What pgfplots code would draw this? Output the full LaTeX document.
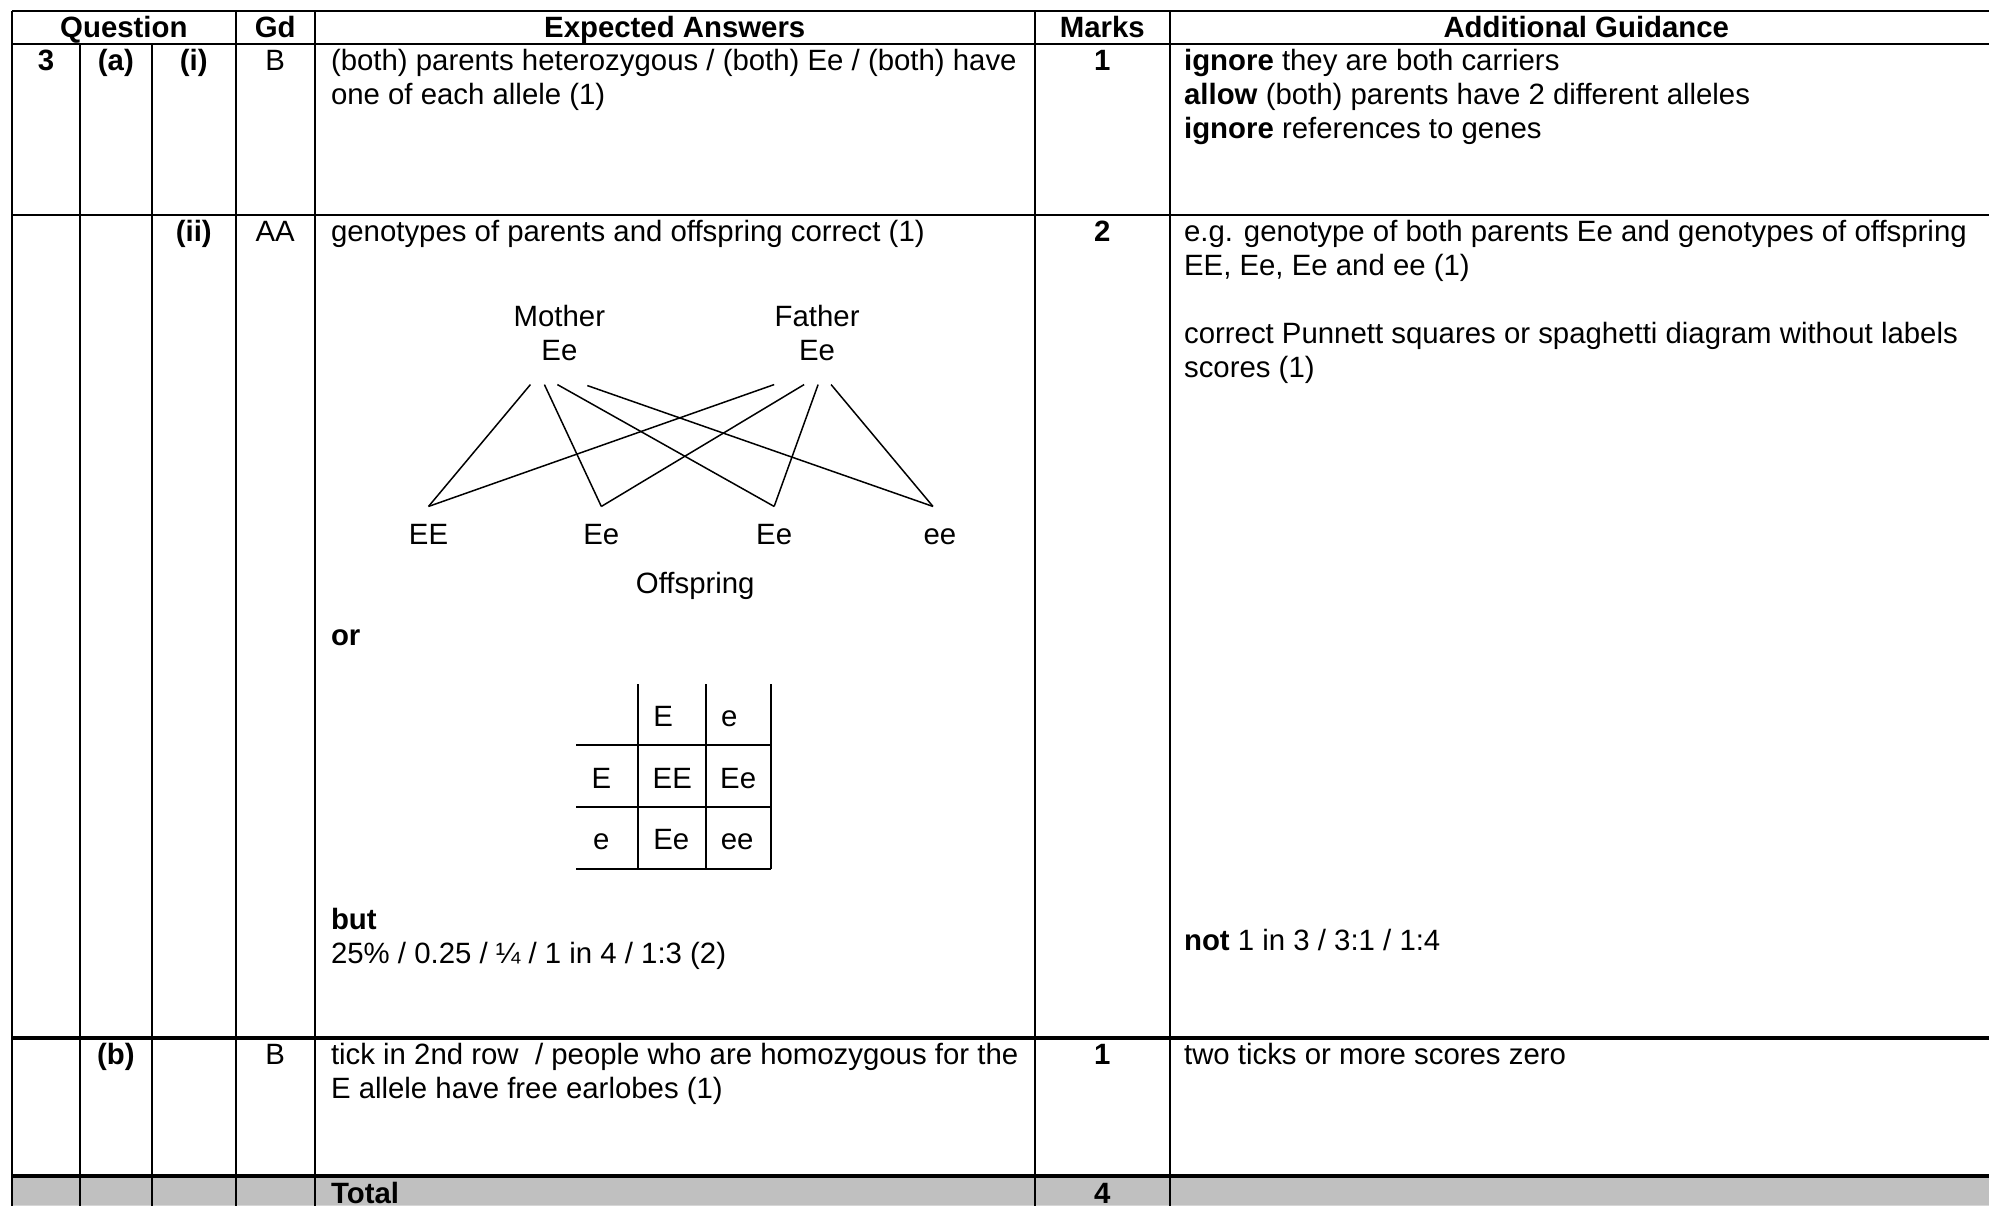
\documentclass[border=0pt]{standalone}
\usepackage{fontspec}
\setmainfont{Liberation Sans}
\usepackage{pgfplots}
\pgfplotsset{compat=1.18}

\definecolor{totalgrey}{RGB}{192,192,192}

\begin{document}
\begin{tikzpicture}[every node/.style={font=\fontsize{14.7bp}{17bp}\selectfont, inner sep=0pt}]
\begin{axis}[
  width=995.5bp, height=603.5bp,
  scale only axis,
  xmin=0, xmax=1991, ymin=0, ymax=1207,
  y dir=reverse,
  hide axis,
  clip=false,
  grid line/.style={black, line width=1bp},
  thick line/.style={black, line width=1.7bp},
  thin line/.style={black, line width=0.75bp},
]
% page and grey total row
\addplot[draw=none, fill=white] coordinates {(0,0) (1991,0) (1991,1207) (0,1207) (0,0)};
\addplot[draw=none, fill=totalgrey] coordinates {(12,1177) (1991,1177) (1991,1207) (12,1207) (12,1177)};

% horizontal rules
\addplot[grid line] coordinates {(12,11) (1991,11)};
\addplot[grid line] coordinates {(12,44) (1991,44)};
\addplot[grid line] coordinates {(12,215) (1991,215)};
\addplot[thick line] coordinates {(12,1039) (1991,1039)};
\addplot[thick line, line width=2.2bp] coordinates {(12,1177) (1991,1177)};

% vertical rules
\addplot[grid line] coordinates {(12,11) (12,1207)};
\addplot[grid line] coordinates {(80,44) (80,1207)};
\addplot[grid line] coordinates {(152,44) (152,1207)};
\addplot[grid line] coordinates {(236,11) (236,1207)};
\addplot[grid line] coordinates {(315,11) (315,1207)};
\addplot[grid line] coordinates {(1036,11) (1036,1207)};
\addplot[grid line] coordinates {(1171,11) (1171,1207)};

% spaghetti diagram
\addplot[thin line] coordinates {(531,385) (429,507)};
\addplot[thin line] coordinates {(545,385) (602,507)};
\addplot[thin line] coordinates {(558,385) (775,507)};
\addplot[thin line] coordinates {(588,386) (934,507)};
\addplot[thin line] coordinates {(775,385) (429,507)};
\addplot[thin line] coordinates {(805,385) (602,507)};
\addplot[thin line] coordinates {(819,385) (775,507)};
\addplot[thin line] coordinates {(832,385) (934,507)};

% Punnett square
\addplot[thin line, line width=1bp] coordinates {(639,685) (639,870)};
\addplot[thin line, line width=1bp] coordinates {(707,685) (707,870)};
\addplot[thin line, line width=1bp] coordinates {(772,685) (772,870)};
\addplot[thin line, line width=1bp] coordinates {(577,746) (772,746)};
\addplot[thin line, line width=1bp] coordinates {(577,808) (772,808)};
\addplot[thin line, line width=1bp] coordinates {(577,870) (772,870)};

% header
\node[anchor=base] at (axis cs:124,38) {\bfseries Question};
\node[anchor=base] at (axis cs:275.5,38) {\bfseries Gd};
\node[anchor=base] at (axis cs:675.5,38) {\bfseries Expected Answers};
\node[anchor=base] at (axis cs:1103.5,38) {\bfseries Marks};
\node[anchor=base] at (axis cs:1588,38) {\bfseries Additional Guidance};

% row 3(a)(i)
\node[anchor=base] at (axis cs:46,71) {\bfseries 3};
\node[anchor=base] at (axis cs:116,71) {\bfseries (a)};
\node[anchor=base] at (axis cs:194,71) {\bfseries (i)};
\node[anchor=base] at (axis cs:275.5,71) {B};
\node[anchor=base west] at (axis cs:331,71) {(both) parents heterozygous / (both) Ee / (both) have};
\node[anchor=base west] at (axis cs:331,105) {one of each allele (1)};
\node[anchor=base] at (axis cs:1103.5,71) {\bfseries 1};
\node[anchor=base west] at (axis cs:1185,71) {\textbf{ignore} they are both carriers};
\node[anchor=base west] at (axis cs:1185,105) {\textbf{allow} (both) parents have 2 different alleles};
\node[anchor=base west] at (axis cs:1185,139) {\textbf{ignore} references to genes};

% row (ii)
\node[anchor=base] at (axis cs:194,242) {\bfseries (ii)};
\node[anchor=base] at (axis cs:275.5,242) {AA};
\node[anchor=base west] at (axis cs:331,242) {genotypes of parents and offspring correct (1)};
\node[anchor=base] at (axis cs:1103.5,242) {\bfseries 2};
\node[anchor=base west] at (axis cs:1185,242) {e.g. genotype of both parents Ee and genotypes of offspring};
\node[anchor=base west] at (axis cs:1185,276) {EE, Ee, Ee and ee (1)};
\node[anchor=base west] at (axis cs:1185,344) {correct Punnett squares or spaghetti diagram without labels};
\node[anchor=base west] at (axis cs:1185,378) {scores (1)};

\node[anchor=base] at (axis cs:560,327) {Mother};
\node[anchor=base] at (axis cs:560,361) {Ee};
\node[anchor=base] at (axis cs:818,327) {Father};
\node[anchor=base] at (axis cs:818,361) {Ee};
\node[anchor=base] at (axis cs:429,545) {EE};
\node[anchor=base] at (axis cs:602,545) {Ee};
\node[anchor=base] at (axis cs:775,545) {Ee};
\node[anchor=base] at (axis cs:941,545) {ee};
\node[anchor=base] at (axis cs:696,594) {Offspring};

\node[anchor=base west] at (axis cs:331,646) {\bfseries or};

\node[anchor=base] at (axis cs:664,727) {E};
\node[anchor=base] at (axis cs:730,727) {e};
\node[anchor=base] at (axis cs:602,789) {E};
\node[anchor=base] at (axis cs:673,789) {EE};
\node[anchor=base] at (axis cs:739,789) {Ee};
\node[anchor=base] at (axis cs:602,850) {e};
\node[anchor=base] at (axis cs:672,850) {Ee};
\node[anchor=base] at (axis cs:738,850) {ee};

\node[anchor=base west] at (axis cs:331,931) {\bfseries but};
\node[anchor=base west] at (axis cs:331,965) {25\% / 0.25 / ¼ / 1 in 4 / 1:3 (2)};
\node[anchor=base west] at (axis cs:1185,952) {\textbf{not} 1 in 3 / 3:1 / 1:4};

% row (b)
\node[anchor=base] at (axis cs:116,1066) {\bfseries (b)};
\node[anchor=base] at (axis cs:275.5,1066) {B};
\node[anchor=base west] at (axis cs:331,1066) {tick in 2nd row \ / people who are homozygous for the};
\node[anchor=base west] at (axis cs:331,1100) {E allele have free earlobes (1)};
\node[anchor=base] at (axis cs:1103.5,1066) {\bfseries 1};
\node[anchor=base west] at (axis cs:1185,1066) {two ticks or more scores zero};

% total row
\node[anchor=base west] at (axis cs:331,1205) {\bfseries Total};
\node[anchor=base] at (axis cs:1103.5,1205) {\bfseries 4};
\end{axis}
\end{tikzpicture}
\end{document}
